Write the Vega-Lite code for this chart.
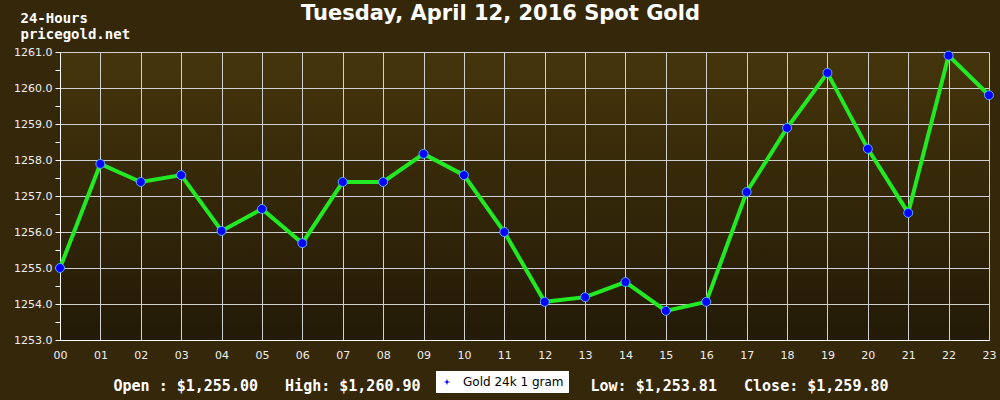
{
  "$schema": "https://vega.github.io/schema/vega-lite/v6.json",
  "width": 929,
  "height": 288,
  "autosize": {"type": "none"},
  "padding": {"left": 60, "top": 52, "right": 11, "bottom": 60},
  "background": "#35280a",
  "title": {
    "text": "Tuesday, April 12, 2016 Spot Gold",
    "font": "DejaVu Sans",
    "fontSize": 21,
    "fontWeight": "bold",
    "color": "#ffffff",
    "anchor": "middle",
    "dx": -24,
    "dy": 21,
    "offset": 8
  },
  "data": {
    "values": [
      {"hour": "00", "price": 1255.00},
      {"hour": "01", "price": 1257.89},
      {"hour": "02", "price": 1257.39},
      {"hour": "03", "price": 1257.58},
      {"hour": "04", "price": 1256.03},
      {"hour": "05", "price": 1256.64},
      {"hour": "06", "price": 1255.69},
      {"hour": "07", "price": 1257.39},
      {"hour": "08", "price": 1257.39},
      {"hour": "09", "price": 1258.17},
      {"hour": "10", "price": 1257.58},
      {"hour": "11", "price": 1256.00},
      {"hour": "12", "price": 1254.06},
      {"hour": "13", "price": 1254.19},
      {"hour": "14", "price": 1254.61},
      {"hour": "15", "price": 1253.81},
      {"hour": "16", "price": 1254.06},
      {"hour": "17", "price": 1257.11},
      {"hour": "18", "price": 1258.89},
      {"hour": "19", "price": 1260.42},
      {"hour": "20", "price": 1258.31},
      {"hour": "21", "price": 1256.53},
      {"hour": "22", "price": 1260.90},
      {"hour": "23", "price": 1259.80}
    ]
  },
  "encoding": {
    "x": {
      "field": "hour",
      "type": "ordinal",
      "scale": {"type": "point", "padding": 0},
      "axis": {
        "labelAngle": 0,
        "tickSize": 0,
        "labelPadding": 9,
        "labelFont": "DejaVu Sans",
        "labelFontSize": 11,
        "labelColor": "#eeeeee",
        "grid": true,
        "gridColor": "#d0d0d0",
        "gridWidth": 1,
        "domainColor": "#ffffff",
        "domainWidth": 1,
        "title": "Open : $1,255.00\u00a0\u00a0\u00a0High: $1,260.90",
        "titleFont": "DejaVu Sans Mono",
        "titleFontSize": 15,
        "titleFontWeight": "bold",
        "titleColor": "#ffffff",
        "titleAnchor": "start",
        "titleAlign": "left",
        "titleBaseline": "alphabetic",
        "titleX": 53,
        "titleY": 50
      }
    },
    "y": {
      "field": "price",
      "type": "quantitative",
      "scale": {"domain": [1253, 1261], "nice": false, "zero": false}
    }
  },
  "layer": [
    {
      "mark": {"type": "line", "color": "#22ea22", "strokeWidth": 4},
      "encoding": {
        "y": {
          "field": "price",
          "type": "quantitative",
          "axis": {
            "values": [1253, 1253.5, 1254, 1254.5, 1255, 1255.5, 1256, 1256.5, 1257, 1257.5, 1258, 1258.5, 1259, 1259.5, 1260, 1260.5, 1261],
            "labelExpr": "datum.value % 1 === 0 ? format(datum.value, '.1f') : ''",
            "labelFont": "DejaVu Sans",
            "labelFontSize": 11,
            "labelColor": "#eeeeee",
            "labelPadding": 3,
            "tickSize": 5,
            "tickColor": "#ffffff",
            "grid": true,
            "gridColor": "#d0d0d0",
            "gridWidth": 1,
            "gridOpacity": {"condition": {"test": "datum.value % 1 === 0", "value": 1}, "value": 0},
            "domainColor": "#ffffff",
            "domainWidth": 1,
            "title": ["24-Hours", "pricegold.net"],
            "titleFont": "DejaVu Sans Mono",
            "titleFontSize": 14,
            "titleFontWeight": "bold",
            "titleColor": "#ffffff",
            "titleAngle": 0,
            "titleAlign": "left",
            "titleBaseline": "alphabetic",
            "titleLineHeight": 16,
            "titleX": -40,
            "titleY": -30
          }
        }
      }
    },
    {
      "mark": {"type": "point", "filled": true, "size": 80, "opacity": 1, "stroke": "#5ab0ff", "strokeWidth": 1},
      "encoding": {
        "y": {
          "field": "price",
          "type": "quantitative",
          "axis": {
            "orient": "right",
            "labels": false,
            "ticks": false,
            "domain": false,
            "grid": false,
            "title": "Low: $1,253.81\u00a0\u00a0\u00a0Close: $1,259.80",
            "titleFont": "DejaVu Sans Mono",
            "titleFontSize": 15,
            "titleFontWeight": "bold",
            "titleColor": "#ffffff",
            "titleAngle": 0,
            "titleAlign": "left",
            "titleBaseline": "alphabetic",
            "titleX": -399,
            "titleY": 338
          }
        },
        "color": {
          "datum": "Gold 24k 1 gram",
          "type": "nominal",
          "scale": {"range": ["#0000ff"]},
          "legend": {
            "title": null,
            "orient": "none",
            "legendX": 376,
            "legendY": 319,
            "fillColor": "#ffffff",
            "padding": 5,
            "labelFont": "DejaVu Sans",
            "labelFontSize": 12,
            "labelColor": "#000000",
            "symbolType": "M0,-1L0.25,-0.25L1,0L0.25,0.25L0,1L-0.25,0.25L-1,0L-0.25,-0.25Z",
            "symbolSize": 40,
            "symbolStrokeWidth": 0,
            "symbolFillColor": "#0000ff",
            "labelOffset": 10
          }
        }
      }
    }
  ],
  "resolve": {"axis": {"y": "independent"}},
  "config": {
    "view": {
      "stroke": null,
      "fill": {"gradient": "linear", "x1": 0, "y1": 0, "x2": 0, "y2": 1, "stops": [{"offset": 0, "color": "#45350b"}, {"offset": 1, "color": "#231a07"}]}
    }
  }
}
